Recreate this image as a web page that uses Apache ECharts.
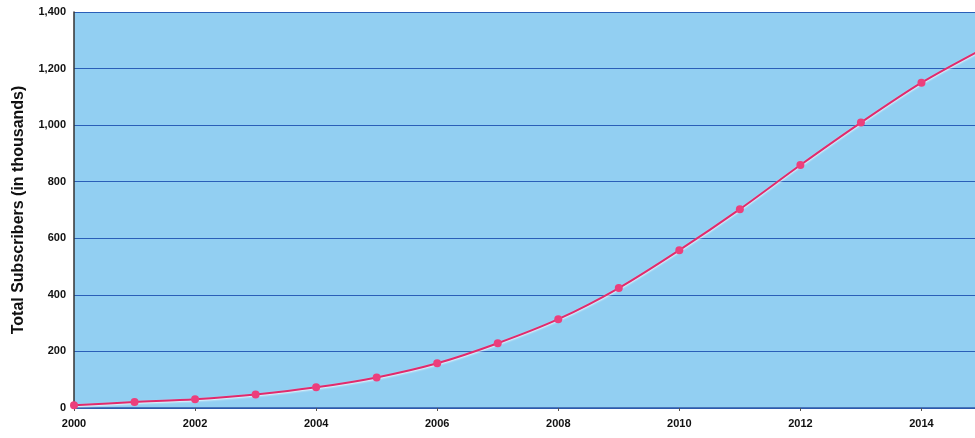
<!DOCTYPE html>
<html>
<head>
<meta charset="utf-8">
<script src="https://cdn.jsdelivr.net/npm/echarts@6/dist/echarts.min.js"></script>
<style>
  html, body { margin: 0; padding: 0; background: #ffffff; overflow: hidden; }
  /* the 2015 column sits just past the right edge of the page */
  #chart { width: 982px; height: 438px; }
</style>
</head>
<body>
<div id="chart"></div>
<script>
// Yearly totals, subscribers in thousands
const years = [2000, 2001, 2002, 2003, 2004, 2005, 2006, 2007, 2008, 2009, 2010, 2011, 2012, 2013, 2014, 2015];
const subscribers = [10, 21, 31, 48, 73, 108, 158, 229, 314, 424, 558, 703, 859, 1009, 1150, 1268];
const yTicks = { min: 0, max: 1400, step: 200 };
const xTicks = { min: 2000, max: 2015, step: 2 };

const points = years.map((y, i) => [y, subscribers[i]]);
const labelFont = { fontFamily: 'Liberation Sans, Arial, sans-serif', fontWeight: 'bold', fontSize: 11, color: '#111' };

const chart = echarts.init(document.getElementById('chart'), null, { renderer: 'canvas' });
chart.setOption({
  animation: false,
  backgroundColor: '#ffffff',
  grid: {
    left: 74, top: 12, bottom: 30, right: 0,
    show: true, backgroundColor: '#92cff2', borderWidth: 0
  },
  xAxis: {
    type: 'value',
    min: xTicks.min, max: xTicks.max, interval: xTicks.step,
    axisLine: { show: true, lineStyle: { color: '#2f5aa8', width: 1.5 } },
    axisTick: { show: true, length: 3, lineStyle: { color: '#555' } },
    axisLabel: { ...labelFont, margin: 10, showMaxLabel: false, formatter: v => String(v) },
    splitLine: { show: false }
  },
  yAxis: {
    type: 'value',
    min: yTicks.min, max: yTicks.max, interval: yTicks.step,
    name: 'Total Subscribers (in thousands)',
    nameLocation: 'middle',
    nameGap: 47,
    nameRotate: 90,
    nameTextStyle: { fontFamily: 'Liberation Sans, Arial, sans-serif', fontWeight: 'bold', fontSize: 16, color: '#111' },
    axisLine: { show: true, lineStyle: { color: '#333', width: 1.5 } },
    axisTick: { show: false },
    axisLabel: { ...labelFont, margin: 8, formatter: v => v.toLocaleString('en-US') },
    splitLine: { show: true, lineStyle: { color: '#2a5fb8', width: 1.2 } }
  },
  series: [{
    type: 'line',
    data: points,
    smooth: 0.3,
    symbol: 'circle',
    symbolSize: 8,
    itemStyle: { color: '#ec3f7c' },
    lineStyle: { color: '#e22a6c', width: 2, shadowColor: 'rgba(255,255,255,0.9)', shadowBlur: 2, shadowOffsetY: 1 }
  }]
});
</script>
</body>
</html>
